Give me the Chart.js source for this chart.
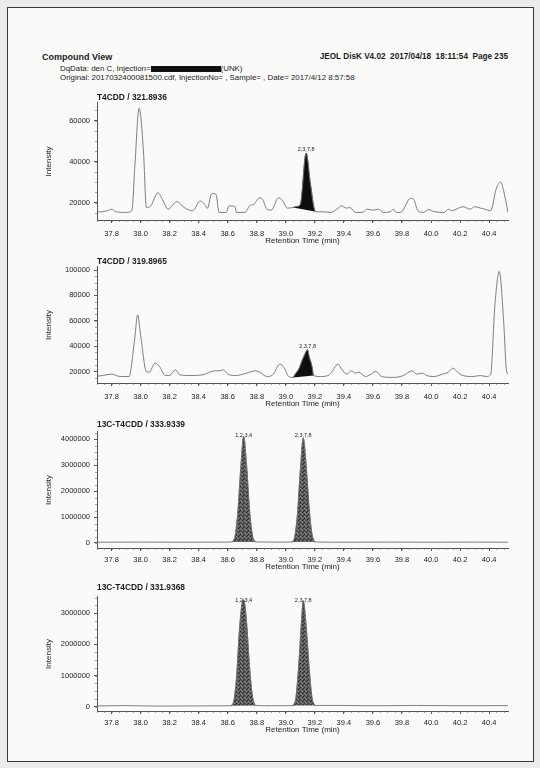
<!DOCTYPE html>
<html>
<head>
<meta charset="utf-8">
<script src="https://cdn.jsdelivr.net/npm/chart.js@4"></script>
<style>
  html, body { margin: 0; padding: 0; background: #ececea; }
  #page { position: relative; width: 540px; height: 768px; overflow: hidden; font-family: "Liberation Sans", Arial, sans-serif; color: #1c1c1c; }
  #frame { position: absolute; left: 7px; top: 7px; width: 525px; height: 753px; border: 1px solid #3a3a3a; background: #fafaf9; }
  .hdr { position: absolute; white-space: nowrap; }
  #h1 { left: 42px; top: 52px; font-size: 9px; line-height: 10px; font-weight: bold; }
  #h2 { right: 32px; top: 52px; font-size: 8.2px; line-height: 10px; font-weight: bold; }
  #h3 { left: 60px; top: 64px; font-size: 7.9px; line-height: 9px; }
  #h4 { left: 60px; top: 73px; font-size: 7.9px; line-height: 9px; }
  .redact { display: inline-block; width: 70px; height: 6px; background: #111; vertical-align: -0.5px; }
  canvas { position: absolute; left: 0; }
</style>
</head>
<body>
<div id="page">
  <div id="frame"></div>
  <div class="hdr" id="h1">Compound View</div>
  <div class="hdr" id="h2">JEOL DisK V4.02&nbsp; 2017/04/18&nbsp; 18:11:54&nbsp; Page 235</div>
  <div class="hdr" id="h3">DqData: den C, Injection=<span class="redact"></span>(UNK)</div>
  <div class="hdr" id="h4">Original: 2017032400081500.cdf, InjectionNo= , Sample= , Date= 2017/4/12 8:57:58</div>
  <canvas id="c1"></canvas>
  <canvas id="c2"></canvas>
  <canvas id="c3"></canvas>
  <canvas id="c4"></canvas>
</div>
<script>
// Chromatogram data
const timeTicks = [37.8, 38.0, 38.2, 38.4, 38.6, 38.8, 39.0, 39.2, 39.4, 39.6, 39.8, 40.0, 40.2, 40.4];
const panelTitles = ['T4CDD / 321.8936', 'T4CDD / 319.8965', '13C-T4CDD / 333.9339', '13C-T4CDD / 331.9368'];

const yTicks1 = [20000, 40000, 60000];
const yTicks2 = [20000, 40000, 60000, 80000, 100000];
const yTicks3 = [0, 1000000, 2000000, 3000000, 4000000];
const yTicks4 = [0, 1000000, 2000000, 3000000];

// T4CDD / 321.8936
const time1 = [37.69, 37.74, 37.77, 37.80, 37.83, 37.90, 37.94, 37.96, 37.99, 38.02, 38.04, 38.07, 38.12, 38.15, 38.19,
  38.25, 38.30, 38.36, 38.41, 38.44, 38.46, 38.49, 38.52, 38.54, 38.59, 38.61, 38.65, 38.66, 38.72, 38.75, 38.78,
  38.82, 38.84, 38.87, 38.90, 38.95, 38.98, 39.01, 39.05, 39.07, 39.10, 39.14, 39.17, 39.20, 39.21, 39.26, 39.31,
  39.36, 39.38, 39.42, 39.44, 39.48, 39.53, 39.56, 39.60, 39.64, 39.67, 39.72, 39.74, 39.76, 39.79, 39.86, 39.88,
  39.91, 39.95, 39.98, 40.02, 40.09, 40.12, 40.14, 40.19, 40.22, 40.27, 40.30, 40.34, 40.37, 40.41, 40.45, 40.48,
  40.50, 40.53];
const int1 = [15200, 15600, 16000, 16800, 15600, 15200, 16000, 37000, 66000, 45000, 17600, 18400, 24800, 21600, 16800,
  20500, 17600, 16000, 20800, 19200, 17200, 24400, 24000, 15200, 15200, 18400, 18000, 15200, 15200, 18400, 19200,
  22400, 21600, 16800, 16300, 22400, 20800, 17300, 17600, 18000, 19000, 44200, 28900, 16000, 15500, 15500, 15200,
  17300, 18400, 17300, 17600, 15200, 15200, 16800, 16300, 16800, 15200, 15500, 16800, 15200, 15200, 22100, 21600,
  16000, 15200, 16600, 15600, 15200, 16800, 16000, 17300, 18000, 16800, 18000, 17300, 16800, 16000, 27000, 30000,
  25700, 15200];
const peakRanges1 = [[39.05, 39.21]];
const peakLabels1 = ['2,3,7,8'];

// T4CDD / 319.8965
const time2 = [37.68, 37.74, 37.80, 37.86, 37.92, 37.96, 37.98, 38.00, 38.04, 38.06, 38.10, 38.13, 38.17, 38.20, 38.24,
  38.27, 38.34, 38.43, 38.46, 38.51, 38.54, 38.57, 38.60, 38.66, 38.73, 38.79, 38.82, 38.87, 38.91, 38.96, 38.99,
  39.02, 39.05, 39.07, 39.09, 39.11, 39.13, 39.15, 39.16, 39.18, 39.19, 39.24, 39.30, 39.36, 39.38, 39.42, 39.45,
  39.48, 39.50, 39.55, 39.58, 39.62, 39.66, 39.74, 39.81, 39.87, 39.90, 39.94, 39.97, 40.02, 40.08, 40.12, 40.15,
  40.19, 40.22, 40.29, 40.34, 40.38, 40.41, 40.44, 40.47, 40.50, 40.52, 40.53];
const int2 = [16000, 16800, 17900, 16000, 16000, 46300, 64700, 49000, 20000, 19500, 26600, 24000, 16800, 16800, 21300,
  17400, 16800, 17400, 18700, 20500, 20500, 21300, 17900, 16800, 18700, 20500, 19500, 16000, 17400, 25800, 22600,
  16000, 15300, 18700, 22000, 27900, 33200, 37100, 31900, 24000, 16800, 16000, 17400, 25800, 22600, 17900, 20500,
  18700, 19500, 16000, 17400, 20000, 16000, 15300, 16800, 20500, 17900, 18700, 16800, 16000, 17900, 19500, 22600,
  18700, 16800, 16000, 16800, 16000, 17400, 72600, 98900, 59500, 20000, 17900];
const peakRanges2 = [[39.05, 39.19]];
const peakLabels2 = ['2,3,7,8'];

// 13C-T4CDD / 333.9339
const time3 = [37.70, 38.00, 38.30, 38.60, 38.63, 38.65, 38.67, 38.69, 38.71, 38.73, 38.75, 38.77, 38.79, 38.90,
  39.04, 39.06, 39.08, 39.10, 39.12, 39.14, 39.16, 39.18, 39.20, 39.40, 39.70, 40.00, 40.30, 40.53];
const int3 = [30000, 35000, 30000, 35000, 40000, 250000, 1200000, 2900000, 4100000, 3000000, 1300000, 300000, 40000, 35000,
  35000, 200000, 1100000, 2800000, 4050000, 3000000, 1400000, 350000, 40000, 30000, 35000, 30000, 35000, 30000];
const peakRanges3 = [[38.62, 38.79], [39.03, 39.20]];
const peakLabels3 = ['1,2,3,4', '2,3,7,8'];

// 13C-T4CDD / 331.9368
const time4 = [37.70, 37.90, 38.10, 38.40, 38.62, 38.64, 38.66, 38.68, 38.70, 38.71, 38.73, 38.75, 38.77, 38.79, 38.90,
  39.05, 39.07, 39.09, 39.11, 39.12, 39.14, 39.16, 39.18, 39.20, 39.40, 39.60, 39.90, 40.20, 40.53];
const int4 = [25000, 35000, 20000, 25000, 30000, 150000, 900000, 2400000, 3350000, 3430000, 2700000, 1300000, 350000, 40000, 30000,
  35000, 300000, 1400000, 2900000, 3400000, 2600000, 1300000, 300000, 40000, 40000, 30000, 40000, 30000, 35000];
const peakRanges4 = [[38.61, 38.79], [39.04, 39.20]];
const peakLabels4 = ['1,2,3,4', '2,3,7,8'];

const FONT = '"Liberation Sans", Arial, sans-serif';
const INK = '#1c1c1c';

// Panel geometry (canvas placement, axis ranges, x-axis band height)
const panels = [
  { id: 'c1', title: panelTitles[0], time: time1, intensity: int1, ranges: peakRanges1, labels: peakLabels1, yTicks: yTicks1,
    top: 85, height: 161, xBand: 26, xPad: 6, titlePad: [8.5, 0.5], yMin: 11500, yMax: 68600, yMinor: 5000, stipple: false },
  { id: 'c2', title: panelTitles[1], time: time2, intensity: int2, ranges: peakRanges2, labels: peakLabels2, yTicks: yTicks2,
    top: 249, height: 160, xBand: 26, xPad: 6, titlePad: [8.5, 0.5], yMin: 10900, yMax: 102400, yMinor: 5000, stipple: false },
  { id: 'c3', title: panelTitles[2], time: time3, intensity: int3, ranges: peakRanges3, labels: peakLabels3, yTicks: yTicks3,
    top: 414, height: 158, xBand: 24, xPad: 4, titlePad: [6.5, 2.5], yMin: -193000, yMax: 4280000, yMinor: 250000, stipple: true },
  { id: 'c4', title: panelTitles[3], time: time4, intensity: int4, ranges: peakRanges4, labels: peakLabels4, yTicks: yTicks4,
    top: 579, height: 156, xBand: 24, xPad: 4, titlePad: [4.5, 4.5], yMin: -138000, yMax: 3520000, yMinor: 250000, stipple: true }
];

// grey speckled fill like the printed 13C peaks
function stipplePattern(ctx) {
  const tile = document.createElement('canvas');
  tile.width = 4; tile.height = 4;
  const g = tile.getContext('2d');
  g.fillStyle = '#5a5a5a'; g.fillRect(0, 0, 4, 4);
  g.fillStyle = '#2a2a2a'; g.fillRect(0, 0, 1, 1); g.fillRect(2, 2, 1, 1); g.fillRect(3, 1, 1, 1);
  g.fillStyle = '#888'; g.fillRect(2, 0, 1, 1); g.fillRect(0, 2, 1, 1); g.fillRect(1, 3, 1, 1);
  return ctx.createPattern(tile, 'repeat');
}

// small unlabeled ticks between the labeled ones
const minorTicks = {
  id: 'minorTicks',
  afterDraw(chart, args, opts) {
    const { ctx, chartArea, scales: { x, y } } = chart;
    ctx.save();
    ctx.strokeStyle = '#6a6a6a';
    ctx.lineWidth = 0.6;
    ctx.beginPath();
    for (let k = Math.ceil(x.min * 20); k <= Math.floor(x.max * 20); k++) {
      const px = Math.round(x.getPixelForValue(k / 20)) + 0.5;
      ctx.moveTo(px, chartArea.bottom);
      ctx.lineTo(px, chartArea.bottom + 2);
    }
    const step = opts.yStep;
    for (let k = Math.ceil(y.min / step); k <= Math.floor(y.max / step); k++) {
      const py = Math.round(y.getPixelForValue(k * step)) + 0.5;
      ctx.moveTo(chartArea.left, py);
      ctx.lineTo(chartArea.left - 2, py);
    }
    ctx.stroke();
    ctx.restore();
  }
};

// isomer name over each integrated peak
const peakNames = {
  id: 'peakNames',
  afterDatasetsDraw(chart) {
    const { ctx, chartArea } = chart;
    ctx.save();
    ctx.font = '5.5px ' + FONT;
    ctx.fillStyle = INK;
    ctx.textAlign = 'center';
    ctx.textBaseline = 'bottom';
    chart.data.datasets.forEach((ds, i) => {
      if (!ds.peakLabel) return;
      const pts = chart.getDatasetMeta(i).data;
      let top = pts[0];
      pts.forEach(el => { if (el.y < top.y) top = el; });
      ctx.fillText(ds.peakLabel, top.x, Math.max(top.y - 1, chartArea.top + 6));
    });
    ctx.restore();
  }
};

function buildPanel(p) {
  const canvas = document.getElementById(p.id);
  canvas.width = 520;
  canvas.height = p.height;
  canvas.style.top = p.top + 'px';

  const points = p.time.map((t, i) => ({ x: t, y: p.intensity[i] }));
  const peakColor = p.stipple ? '#3c3c3c' : '#0e0e0e';
  const datasets = [{
    data: points,
    borderColor: '#707070',
    borderWidth: 0.9,
    pointRadius: 0,
    cubicInterpolationMode: 'monotone',
    fill: false
  }];
  p.ranges.forEach((r, i) => {
    datasets.push({
      data: points.filter(pt => pt.x >= r[0] && pt.x <= r[1]),
      borderColor: peakColor,
      borderWidth: 0.6,
      backgroundColor: p.stipple ? (c => stipplePattern(c.chart.ctx)) : peakColor,
      fill: 'shape',
      pointRadius: 0,
      cubicInterpolationMode: 'monotone',
      peakLabel: p.labels[i]
    });
  });

  const tickFont = { family: FONT, size: 7.5 };
  const titleFont = { family: FONT, size: 8 };

  return new Chart(canvas, {
    type: 'line',
    data: { datasets },
    options: {
      responsive: false,
      animation: false,
      events: [],
      layout: { padding: { left: 0, right: 12, top: 0, bottom: 0 } },
      plugins: {
        legend: { display: false },
        tooltip: { enabled: false },
        minorTicks: { yStep: p.yMinor },
        title: {
          display: true,
          text: p.title,
          align: 'start',
          fullSize: false,
          color: INK,
          font: { family: FONT, size: 8.4, weight: 'bold', lineHeight: 1.07 },
          padding: { top: p.titlePad[0], bottom: p.titlePad[1] }
        }
      },
      scales: {
        x: {
          type: 'linear',
          min: 37.7,
          max: 40.53,
          afterBuildTicks: s => { s.ticks = timeTicks.map(v => ({ value: v })); },
          afterFit: s => { s.height = p.xBand; },
          grid: { drawOnChartArea: false, drawTicks: true, tickLength: 3, color: '#555' },
          border: { display: true, color: '#555', width: 1 },
          ticks: { callback: v => v.toFixed(1), font: tickFont, color: INK, padding: p.xPad, maxRotation: 0, autoSkip: false },
          title: { display: true, text: 'Retention Time (min)', font: titleFont, color: INK, padding: { top: 0, bottom: 0 } }
        },
        y: {
          min: p.yMin,
          max: p.yMax,
          afterBuildTicks: s => { s.ticks = p.yTicks.map(v => ({ value: v })); },
          afterFit: s => { s.width = 97; },
          grid: { drawOnChartArea: false, drawTicks: true, tickLength: 3, color: '#555' },
          border: { display: true, color: '#555', width: 1 },
          ticks: { callback: v => String(v), font: tickFont, color: INK, padding: 4 },
          title: { display: true, text: 'Intensity', font: titleFont, color: INK, padding: { top: 44, bottom: 0 } }
        }
      }
    },
    plugins: [minorTicks, peakNames]
  });
}

window.charts = panels.map(buildPanel);
</script>
</body>
</html>
